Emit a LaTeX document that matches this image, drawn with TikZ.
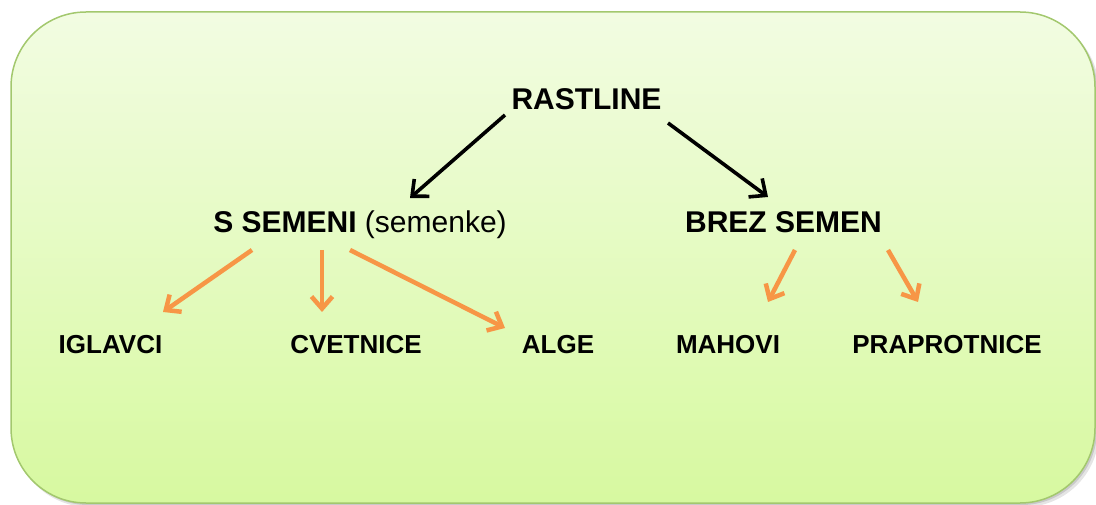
\documentclass[tikz,border=0pt]{standalone}
\usepackage{fontspec}
\setmainfont{Liberation Sans}
\usetikzlibrary{arrows.meta}
\definecolor{boxtop}{RGB}{242,252,226}
\definecolor{boxbot}{RGB}{215,249,160}
\definecolor{boxline}{RGB}{163,200,110}
\definecolor{orangearr}{RGB}{247,150,70}
\begin{document}
\begin{tikzpicture}[x=1pt,y=-1pt,
  big/.style={font=\fontsize{30}{36}\selectfont\bfseries, inner sep=0pt, anchor=base},
  small/.style={font=\fontsize{26}{31}\selectfont\bfseries, inner sep=0pt, anchor=base},
  blackarrow/.style={draw=black, line width=3.6pt, -{Straight Barb[length=13pt,width=23pt]}},
  orangearrow/.style={draw=orangearr, line width=4.5pt, -{Straight Barb[length=12pt,width=21pt]}},
  boxshadow/.style={fill=black, rounded corners=75pt}]
\useasboundingbox (0,0) rectangle (1096,505);
\fill[boxshadow, opacity=0.10] (14,16) rectangle (1099,507);
\fill[boxshadow, opacity=0.12] (13,14) rectangle (1097,505);
\shadedraw[top color=boxtop, bottom color=boxbot, draw=boxline, line width=1.5pt, rounded corners=75pt] (11,12) rectangle (1095,503);
% nodes
\node[big] (rast) at (586.5,110) {RASTLINE};
\node[big] (ssem) at (360,233) {S SEMENI \textmd{(semenke)}};
\node[big] (brez) at (783.5,233) {BREZ SEMEN};
\node[small] (igl) at (110.5,353) {IGLAVCI};
\node[small] (cvet) at (356,353) {CVETNICE};
\node[small] (alge) at (558,353) {ALGE};
\node[small] (mah) at (728,353) {MAHOVI};
\node[small] (prap) at (947,353) {PRAPROTNICE};
% black arrows
\draw[blackarrow] ([shift={(-81.5,5)}]rast.base) -- ([shift={(50,-35)}]ssem.base);
\draw[blackarrow] ([shift={(81.5,13)}]rast.base) -- ([shift={(-15.5,-36)}]brez.base);
% orange arrows
\draw[orangearrow] ([shift={(-108,17)}]ssem.base) -- ([shift={(52.5,-41)}]igl.base);
\draw[orangearrow] ([shift={(-38,17)}]ssem.base) -- ([shift={(-34,-41)}]cvet.base);
\draw[orangearrow] ([shift={(-10,17)}]ssem.base) -- ([shift={(-53,-25)}]alge.base);
\draw[orangearrow] ([shift={(11.5,17)}]brez.base) -- ([shift={(40,-51)}]mah.base);
\draw[orangearrow] ([shift={(104.5,17)}]brez.base) -- ([shift={(-29,-51)}]prap.base);
\end{tikzpicture}
\end{document}
